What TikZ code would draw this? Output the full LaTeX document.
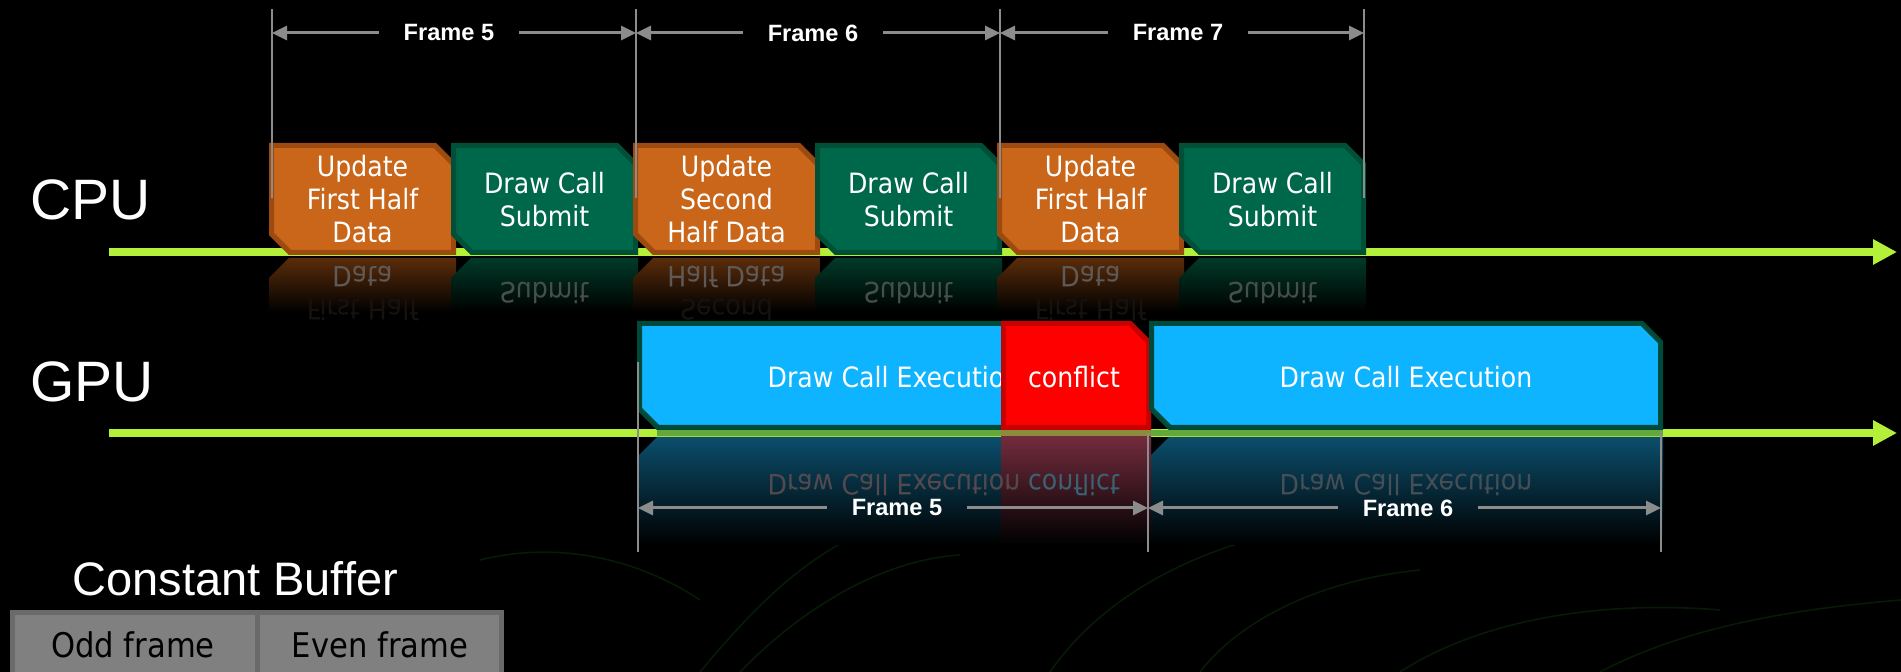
\documentclass[tikz,border=0pt]{standalone}
\usepackage{fontspec}
\usepackage{graphicx}
\setmainfont{Liberation Sans}
\newfontfamily\boxfont[FakeStretch=0.9]{DejaVu Sans}
\usetikzlibrary{arrows.meta}
\definecolor{axislime}{HTML}{B4F03A}
\definecolor{ofill}{HTML}{C9661A}
\definecolor{oborder}{HTML}{9C4A10}
\definecolor{gfill}{HTML}{00684A}
\definecolor{gborder}{HTML}{004F37}
\definecolor{bfill}{HTML}{0EB4FF}
\definecolor{bborder}{HTML}{004A3A}
\definecolor{rfill}{HTML}{FF0000}
\definecolor{rborder}{HTML}{C80000}
\definecolor{orefl}{HTML}{5A2C0A}
\definecolor{grefl}{HTML}{003A28}
\definecolor{brefl}{HTML}{0B4E6C}
\definecolor{rrefl}{HTML}{722B3C}
\definecolor{fgray}{HTML}{8C8C8C}
\definecolor{cbfill}{HTML}{808080}
\definecolor{cbborder}{HTML}{6A6A6A}
\definecolor{swirl}{HTML}{061A06}
\newcommand\cboxpath[4]{({#1+2.5},{#2+2.5}) -- ({#3-21},{#2+2.5}) -- ({#3-2.5},{#2+21}) -- ({#3-2.5},{#4-2.5}) -- ({#1+21},{#4-2.5}) -- ({#1+2.5},{#4-21}) -- cycle}
\newcommand\rboxpath[4]{({#1+2.5},{#2+2.5}) -- ({#3-21},{#2+2.5}) -- ({#3-2.5},{#2+21}) -- ({#3-2.5},{#4-2.5}) -- ({#1+2.5},{#4-2.5}) -- cycle}
\newcommand\reflpath[4]{({#1+20},#3) -- (#2,#3) -- (#2,#4) -- (#1,#4) -- (#1,{#3+20}) -- cycle}
\begin{document}
\begin{tikzpicture}[x=0.5pt,y=-0.5pt,
  axisline/.style={draw=axislime,line width=4pt,-{Triangle[length=12pt,width=12pt]}},
  obox/.style={fill=ofill,draw=oborder,line width=2.5pt,line join=miter},
  gbox/.style={fill=gfill,draw=gborder,line width=2.5pt,line join=miter},
  bbox/.style={fill=bfill,draw=bborder,line width=2.5pt,line join=miter},
  rbox/.style={fill=rfill,draw=rborder,line width=2.5pt,line join=miter},
  boxtext/.style={text=white,font=\boxfont\fontsize{14}{16.5}\selectfont,align=center,inner sep=0pt},
  mirtext/.style={font=\boxfont\fontsize{14}{16.5}\selectfont,inner sep=0pt},
  biglabel/.style={text=white,font=\fontsize{28.5}{34}\selectfont,anchor=base west,inner sep=0pt},
  flabel/.style={text=white,font=\bfseries\fontsize{11.8}{13}\selectfont,minimum width=70pt,inner sep=0pt},
  farrow/.style={draw=fgray,line width=1.5pt,-{Triangle[length=7.5pt,width=7pt]}},
  vline/.style={draw=fgray,line width=1pt},
  cbcell/.style={fill=cbfill,draw=cbborder,line width=2.5pt},
  cbtext/.style={text=black,font=\boxfont\fontsize{17}{20}\selectfont,inner sep=0pt},
  swirlline/.style={draw=swirl,line width=0.8pt}
]
\useasboundingbox (0,0) rectangle (1901,672);
\clip (0,0) rectangle (1901,672);
\fill[black] (0,0) rectangle (1901,672);

% faint background swirls
\draw[swirlline] (700,672) .. controls (760,600) and (820,540) .. (900,520);
\draw[swirlline] (740,672) .. controls (800,610) and (880,560) .. (960,555);
\draw[swirlline] (1050,672) .. controls (1100,600) and (1180,560) .. (1250,540);
\draw[swirlline] (1200,672) .. controls (1240,620) and (1320,580) .. (1420,570);
\draw[swirlline] (1400,672) .. controls (1480,620) and (1600,600) .. (1720,610);
\draw[swirlline] (1600,672) .. controls (1680,630) and (1780,610) .. (1901,600);
\draw[swirlline] (480,560) .. controls (560,540) and (640,560) .. (700,600);

% time axes
\coordinate (cpuA) at (109,252);
\coordinate (cpuB) at (1897,252);
\coordinate (gpuA) at (109,433);
\coordinate (gpuB) at (1897,433);
\draw[axisline] (cpuA) -- (cpuB);
\draw[axisline] (gpuA) -- (gpuB);
\fill[fill={rgb,255:red,100;green,168;blue,60}] (657,430) rectangle (1663,436.5);
\fill[fill={rgb,255:red,140;green,138;blue,60}] (1001,430) rectangle (1151,436.5);

% row labels
\node[biglabel] (cpu) at (30,220) {CPU};
\node[biglabel] (gpu) at (30,402) {GPU};

% CPU reflections
\shade[top color=orefl,bottom color=black] \reflpath{269}{456}{258}{312};
\shade[top color=grefl,bottom color=black] \reflpath{451}{638}{258}{312};
\shade[top color=orefl,bottom color=black] \reflpath{633}{820}{258}{312};
\shade[top color=grefl,bottom color=black] \reflpath{815}{1002}{258}{312};
\shade[top color=orefl,bottom color=black] \reflpath{997}{1184}{258}{312};
\shade[top color=grefl,bottom color=black] \reflpath{1179}{1366}{258}{312};
\node[mirtext,text={rgb,255:red,95;green,90;blue,88}] (m5a) at (362.5,277) {\scalebox{1}[-1]{Data}};
\node[mirtext,text={rgb,255:red,22;green,18;blue,16}] (m5b) at (362.5,310) {\scalebox{1}[-1]{First Half}};
\node[mirtext,text={rgb,255:red,72;green,78;blue,76}] (m5c) at (544.5,293) {\scalebox{1}[-1]{Submit}};
\node[mirtext,text={rgb,255:red,95;green,90;blue,88}] (m6a) at (726.5,277) {\scalebox{1}[-1]{Half Data}};
\node[mirtext,text={rgb,255:red,22;green,18;blue,16}] (m6b) at (726.5,310) {\scalebox{1}[-1]{Second}};
\node[mirtext,text={rgb,255:red,72;green,78;blue,76}] (m6c) at (908.5,293) {\scalebox{1}[-1]{Submit}};
\node[mirtext,text={rgb,255:red,95;green,90;blue,88}] (m7a) at (1090.5,277) {\scalebox{1}[-1]{Data}};
\node[mirtext,text={rgb,255:red,22;green,18;blue,16}] (m7b) at (1090.5,310) {\scalebox{1}[-1]{First Half}};
\node[mirtext,text={rgb,255:red,72;green,78;blue,76}] (m7c) at (1272.5,293) {\scalebox{1}[-1]{Submit}};

% CPU boxes
\draw[obox] \cboxpath{269}{143}{456}{255};
\node[boxtext] (u5) at (362.5,199) {Update\\First Half\\Data};
\draw[gbox] \cboxpath{451}{143}{638}{255};
\node[boxtext] (d5) at (544.5,200) {Draw Call\\Submit};
\draw[obox] \cboxpath{633}{143}{820}{255};
\node[boxtext] (u6) at (726.5,199) {Update\\Second\\Half Data};
\draw[gbox] \cboxpath{815}{143}{1002}{255};
\node[boxtext] (d6) at (908.5,200) {Draw Call\\Submit};
\draw[obox] \cboxpath{997}{143}{1184}{255};
\node[boxtext] (u7) at (1090.5,199) {Update\\First Half\\Data};
\draw[gbox] \cboxpath{1179}{143}{1366}{255};
\node[boxtext] (d7) at (1272.5,200) {Draw Call\\Submit};

% CPU frame markers
\coordinate (c1t) at (272,9);  \coordinate (c1b) at (272,198);
\coordinate (c2t) at (636,9);  \coordinate (c2b) at (636,198);
\coordinate (c3t) at (1000,9); \coordinate (c3b) at (1000,198);
\coordinate (c4t) at (1364,9); \coordinate (c4b) at (1364,198);
\draw[vline] (c1t) -- (c1b);
\draw[vline] (c2t) -- (c2b);
\draw[vline] (c3t) -- (c3b);
\draw[vline] (c4t) -- (c4b);
\node[flabel] (tf5) at (449,33) {Frame 5};
\node[flabel] (tf6) at (813,33) {Frame 6};
\node[flabel] (tf7) at (1178,33) {Frame 7};
\draw[farrow] (tf5.west) -- (tf5.west -| c1t);
\draw[farrow] (tf5.east) -- (tf5.east -| c2t);
\draw[farrow] (tf6.west) -- (tf6.west -| c2t);
\draw[farrow] (tf6.east) -- (tf6.east -| c3t);
\draw[farrow] (tf7.west) -- (tf7.west -| c3t);
\draw[farrow] (tf7.east) -- (tf7.east -| c4t);

% GPU reflections
\shade[top color=brefl,bottom color=black] \reflpath{637}{1151}{437}{545};
\shade[top color=brefl,bottom color=black] \reflpath{1149}{1663}{437}{545};
\shade[top color=rrefl,bottom color=black] (1001,437) rectangle (1151,545);
\node[mirtext,text={rgb,255:red,84;green,74;blue,78}] (mg1) at (894,485) {\scalebox{1}[-1]{Draw Call Execution}};
\node[mirtext,text={rgb,255:red,58;green,98;blue,114}] (mgc) at (1074,485) {\scalebox{1}[-1]{conflict}};
\node[mirtext,text={rgb,255:red,70;green,78;blue,86}] (mg2) at (1406,485) {\scalebox{1}[-1]{Draw Call Execution}};

% GPU boxes
\draw[bbox] \cboxpath{637}{321}{1151}{430};
\node[boxtext] (e5) at (894,377) {Draw Call Execution};
\draw[rbox] \rboxpath{1001}{321}{1151}{430};
\node[boxtext] (cf) at (1074,377) {conflict};
\draw[bbox] \cboxpath{1149}{321}{1663}{430};
\node[boxtext] (e6) at (1406,377) {Draw Call Execution};

% GPU frame markers
\coordinate (g1t) at (638,362);  \coordinate (g1b) at (638,552);
\coordinate (g2t) at (1148,433); \coordinate (g2b) at (1148,552);
\coordinate (g3t) at (1661,431); \coordinate (g3b) at (1661,552);
\draw[vline] (g1t) -- (g1b);
\draw[vline] (g2t) -- (g2b);
\draw[vline] (g3t) -- (g3b);
\node[flabel] (bf5) at (897,508) {Frame 5};
\node[flabel] (bf6) at (1408,508) {Frame 6};
\draw[farrow] (bf5.west) -- (bf5.west -| g1t);
\draw[farrow] (bf5.east) -- (bf5.east -| g2t);
\draw[farrow] (bf6.west) -- (bf6.west -| g2t);
\draw[farrow] (bf6.east) -- (bf6.east -| g3t);

% constant buffer
\node[text=white,font=\fontsize{23.5}{28}\selectfont,anchor=base west,inner sep=0pt] (cb) at (72,596) {Constant Buffer};
\draw[cbcell] (12.5,612.5) rectangle (257,700);
\draw[cbcell] (257,612.5) rectangle (501.5,700);
\node[cbtext] (odd) at (133,645) {Odd frame};
\node[cbtext] (even) at (380,645) {Even frame};
\end{tikzpicture}
\end{document}
